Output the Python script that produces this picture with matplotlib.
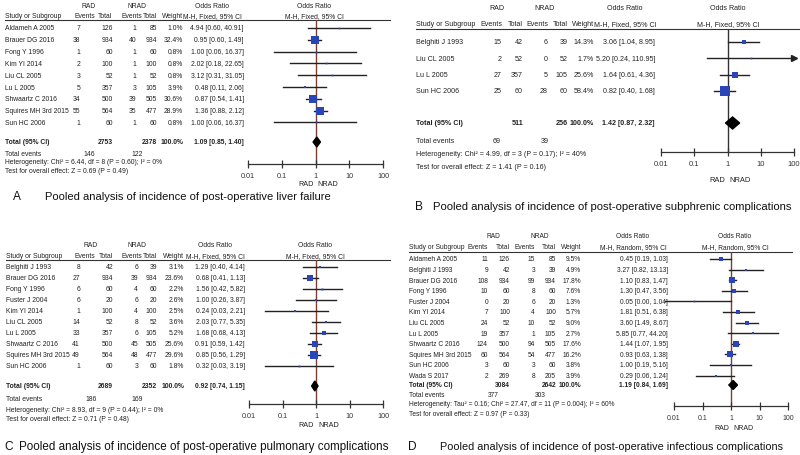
import matplotlib as mpl
mpl.use('Agg') # Headless
import matplotlib.pyplot as plt
import numpy as np

W, H = 800, 456
FAM = ['Liberation Sans', 'DejaVu Sans']

# ---- A: liver failure
a_study = ['Aldameh A 2005', 'Brauer DG 2016', 'Fong Y 1996', 'Kim YI 2014', 'Liu CL 2005',
           'Lu L 2005', 'Shwaartz C 2016', 'Squires MH 3rd 2015', 'Sun HC 2006']
a_rad_ev = [7, 38, 1, 2, 3, 5, 34, 55, 1]
a_rad_tot = [126, 934, 60, 100, 52, 357, 500, 564, 60]
a_nrad_ev = [1, 40, 1, 1, 1, 3, 39, 35, 1]
a_nrad_tot = [85, 934, 60, 100, 52, 105, 505, 477, 60]
a_weight = [1.0, 32.4, 0.8, 0.8, 0.8, 3.9, 30.6, 28.9, 0.8]
a_or = [4.94, 0.95, 1.00, 2.02, 3.12, 0.48, 0.87, 1.36, 1.00]
a_lo = [0.60, 0.60, 0.06, 0.18, 0.31, 0.11, 0.54, 0.88, 0.06]
a_hi = [40.91, 1.49, 16.37, 22.65, 31.05, 2.06, 1.41, 2.12, 16.37]
a_total = [2753, 2378, 1.09, 0.85, 1.40]
a_events = [146, 122]
a_het = 'Heterogeneity: Chi² = 6.44, df = 8 (P = 0.60); I² = 0%'
a_test = 'Test for overall effect: Z = 0.69 (P = 0.49)'
a_caption = 'Pooled analysis of incidence of post-operative liver failure'

# ---- B: subphrenic complications
b_study = ['Belghiti J 1993', 'Liu CL 2005', 'Lu L 2005', 'Sun HC 2006']
b_rad_ev = [15, 2, 27, 25]
b_rad_tot = [42, 52, 357, 60]
b_nrad_ev = [6, 0, 5, 28]
b_nrad_tot = [39, 52, 105, 60]
b_weight = [14.3, 1.7, 25.6, 58.4]
b_or = [3.06, 5.20, 1.64, 0.82]
b_lo = [1.04, 0.24, 0.61, 0.40]
b_hi = [8.95, 110.95, 4.36, 1.68]
b_total = [511, 256, 1.42, 0.87, 2.32]
b_events = [69, 39]
b_het = 'Heterogeneity: Chi² = 4.99, df = 3 (P = 0.17); I² = 40%'
b_test = 'Test for overall effect: Z = 1.41 (P = 0.16)'
b_caption = 'Pooled analysis of incidence of post-operative subphrenic complications'

# ---- C: pulmonary complications
c_study = ['Belghiti J 1993', 'Brauer DG 2016', 'Fong Y 1996', 'Fuster J 2004', 'Kim YI 2014',
           'Liu CL 2005', 'Lu L 2005', 'Shwaartz C 2016', 'Squires MH 3rd 2015', 'Sun HC 2006']
c_rad_ev = [8, 27, 6, 6, 1, 14, 33, 41, 49, 1]
c_rad_tot = [42, 934, 60, 20, 100, 52, 357, 500, 564, 60]
c_nrad_ev = [6, 39, 4, 6, 4, 8, 6, 45, 48, 3]
c_nrad_tot = [39, 934, 60, 20, 100, 52, 105, 505, 477, 60]
c_weight = [3.1, 23.6, 2.2, 2.6, 2.5, 3.6, 5.2, 25.6, 29.6, 1.8]
c_or = [1.29, 0.68, 1.56, 1.00, 0.24, 2.03, 1.68, 0.91, 0.85, 0.32]
c_lo = [0.40, 0.41, 0.42, 0.26, 0.03, 0.77, 0.68, 0.59, 0.56, 0.03]
c_hi = [4.14, 1.13, 5.82, 3.87, 2.21, 5.35, 4.13, 1.42, 1.29, 3.19]
c_total = [2689, 2352, 0.92, 0.74, 1.15]
c_events = [186, 169]
c_het = 'Heterogeneity: Chi² = 8.93, df = 9 (P = 0.44); I² = 0%'
c_test = 'Test for overall effect: Z = 0.71 (P = 0.48)'
c_caption = 'Pooled analysis of incidence of post-operative pulmonary complications'

# ---- D: infectious complications (random effects)
d_study = ['Aldameh A 2005', 'Belghiti J 1993', 'Brauer DG 2016', 'Fong Y 1996', 'Fuster J 2004',
           'Kim YI 2014', 'Liu CL 2005', 'Lu L 2005', 'Shwaartz C 2016', 'Squires MH 3rd 2015',
           'Sun HC 2006', 'Wada S 2017']
d_rad_ev = [11, 9, 108, 10, 0, 7, 24, 19, 124, 60, 3, 2]
d_rad_tot = [126, 42, 934, 60, 20, 100, 52, 357, 500, 564, 60, 269]
d_nrad_ev = [15, 3, 99, 8, 6, 4, 10, 1, 94, 54, 3, 8]
d_nrad_tot = [85, 39, 934, 60, 20, 100, 52, 105, 505, 477, 60, 205]
d_weight = [9.5, 4.9, 17.8, 7.6, 1.3, 5.7, 9.0, 2.7, 17.6, 16.2, 3.8, 3.9]
d_or = [0.45, 3.27, 1.10, 1.30, 0.05, 1.81, 3.60, 5.85, 1.44, 0.93, 1.00, 0.29]
d_lo = [0.19, 0.82, 0.83, 0.47, 0.00, 0.51, 1.49, 0.77, 1.07, 0.63, 0.19, 0.06]
d_hi = [1.03, 13.13, 1.47, 3.56, 1.04, 6.38, 8.67, 44.20, 1.95, 1.38, 5.16, 1.24]
d_total = [3084, 2642, 1.19, 0.84, 1.69]
d_events = [377, 303]
d_het = 'Heterogeneity: Tau² = 0.16; Chi² = 27.47, df = 11 (P = 0.004); I² = 60%'
d_test = 'Test for overall effect: Z = 0.97 (P = 0.33)'
d_caption = 'Pooled analysis of incidence of post-operative infectious complications'

fig = plt.figure(figsize=(W / 100, H / 100), dpi=100)
bg = fig.add_axes([0, 0, 1, 1])
bg.set_xlim(0, W)
bg.set_ylim(H, 0)
bg.axis('off')


def txt(x, y, s, ha='left', fs=6, bold=False):
    bg.text(x, y, s, ha=ha, va='center', fontsize=fs, family=FAM,
            fontweight='bold' if bold else 'normal', color='#222222')


def panel(study, rev, rtot, nev, ntot, wt, orr, lo, hi, total, events, het, test,
          letter, caption, L, method='M-H, Fixed, 95% CI', vcol='#7b3f2f'):
    fs = L['fs']
    c = L['cols']  # right edges: ev1, tot1, ev2, tot2, weight, or
    hc = L.get('hcols', c[:5])
    rad_c, nrad_c = L['grp']
    txt(rad_c, L['yh1'], 'RAD', 'center', fs)
    txt(nrad_c, L['yh1'], 'NRAD', 'center', fs)
    txt(L['orh'], L['yh1'], 'Odds Ratio', 'center', fs)
    txt(L['plh'], L['yh1'], 'Odds Ratio', 'center', fs)
    txt(L['x0'], L['yh2'], 'Study or Subgroup', 'left', fs)
    for xr, s in zip(hc, ['Events', 'Total', 'Events', 'Total', 'Weight']):
        txt(xr, L['yh2'], s, 'right', fs)
    txt(L['orh'], L['yh2'], method, 'center', fs)
    txt(L['plh'], L['yh2'], method, 'center', fs)
    bg.plot([L['x0'], L['xend']], [L['yline'], L['yline']], color='#333333', lw=0.8)

    ys = [L['yr0'] + i * L['dy'] for i in range(len(study))]
    for i, y in enumerate(ys):
        txt(L['x0'], y, study[i], 'left', fs)
        txt(c[0], y, str(rev[i]), 'right', fs)
        txt(c[1], y, str(rtot[i]), 'right', fs)
        txt(c[2], y, str(nev[i]), 'right', fs)
        txt(c[3], y, str(ntot[i]), 'right', fs)
        txt(c[4], y, f'{wt[i]:.1f}%', 'right', fs)
        txt(c[5], y, f'{orr[i]:.2f} [{lo[i]:.2f}, {hi[i]:.2f}]', 'right', fs)

    yt = L['ytot']
    txt(L['x0'], yt, 'Total (95% CI)', 'left', fs, True)
    txt(c[1], yt, str(total[0]), 'right', fs, True)
    txt(c[3], yt, str(total[1]), 'right', fs, True)
    txt(c[4], yt, '100.0%', 'right', fs, True)
    txt(c[5], yt, f'{total[2]:.2f} [{total[3]:.2f}, {total[4]:.2f}]', 'right', fs, True)
    txt(L['x0'], L['yev'], 'Total events', 'left', fs)
    txt(rad_c, L['yev'], str(events[0]), 'center', fs)
    txt(nrad_c, L['yev'], str(events[1]), 'center', fs)
    txt(L['x0'], L['yhet'], het, 'left', fs)
    txt(L['x0'], L['ytest'], test, 'left', fs)

    # forest plot on a log axis
    p0, p1 = L['px']
    ax = fig.add_axes([p0 / W, 1 - L['yaxis'] / H, (p1 - p0) / W, (L['yaxis'] - L['yline']) / H])
    ax.set_xscale('log')
    ax.set_xlim(0.01, 100)
    ax.set_ylim(L['yaxis'], L['yline'])
    ax.patch.set_visible(False)
    for s in ['top', 'left', 'right']:
        ax.spines[s].set_visible(False)
    ax.spines['bottom'].set_color('#333333')
    ax.spines['bottom'].set_linewidth(0.9)
    ax.set_yticks([])
    ax.set_xticks([0.01, 0.1, 1, 10, 100])
    ax.set_xticklabels(['0.01', '0.1', '1', '10', '100'], family=FAM, fontsize=L['tfs'])
    ax.minorticks_off()
    ax.tick_params(axis='x', direction='inout', length=6, width=0.9, pad=2.5,
                   colors='#333333')
    ax.axvline(1, color=vcol, lw=1.0, zorder=1)
    for i, y in enumerate(ys):
        l = max(lo[i], 0.005)
        if hi[i] > 100:
            ax.plot([l, 100], [y, y], color='#222222', lw=1.0, clip_on=False, zorder=2)
            ax.plot([100], [y], marker='>', color='#222222', ms=4, clip_on=False, zorder=2)
        else:
            ax.plot([l, hi[i]], [y, y], color='#222222', lw=1.0, clip_on=False, zorder=2)
        ax.plot([orr[i]], [y], marker='s', color='#2a45b8', ms=max(1.2, 0.95 * np.sqrt(wt[i])),
                mew=0, clip_on=False, zorder=3)
    dh = L['dh']
    ax.fill([total[3], total[2], total[4], total[2]], [yt, yt - dh, yt, yt + dh],
            color='black', zorder=4, clip_on=False)

    xm = (p0 + p1) / 2
    txt(xm - 2, L['yrn'], 'RAD', 'right', L['tfs'])
    txt(xm + 2, L['yrn'], 'NRAD', 'left', L['tfs'])
    bg.text(L['capx'][0], L['capy'], letter, ha='left', va='center', fontsize=8.6,
            family=FAM, color='#111111')
    bg.text(L['capx'][1], L['capy'], caption, ha='left', va='center', fontsize=L['cfs'],
            family=FAM, color='#111111')


LA = dict(fs=4.9, tfs=5.2, cols=[80, 113, 136, 157, 183, 244], hcols=[95, 112, 142, 157, 183],
          grp=(89, 137), orh=212, plh=314, x0=5, xend=390, yh1=6, yh2=17, yline=21, yr0=29,
          dy=11.8, ytot=143, yev=155, yhet=163, ytest=172, px=(248, 383), yaxis=165, yrn=185,
          dh=5, capx=(13, 45), capy=197, cfs=8.0)
LB = dict(fs=5.1, tfs=5.4, cols=[502, 523, 548, 568, 594, 655], grp=(497, 545), orh=625,
          plh=728, x0=416, xend=800, yh1=9, yh2=25, yline=30, yr0=43, dy=16.3, ytot=124,
          yev=142, yhet=155, ytest=168, px=(661, 794), yaxis=153, yrn=181, dh=6,
          capx=(415, 433), capy=207, cfs=8.1)
LC = dict(fs=4.9, tfs=5.2, cols=[80, 113, 138, 157, 184, 245], hcols=[95, 113, 142, 157, 184],
          grp=(91, 137), orh=215, plh=315, x0=6, xend=390, yh1=246, yh2=257, yline=261,
          yr0=268, dy=11.0, ytot=387, yev=400, yhet=411, ytest=420, px=(249, 383), yaxis=405,
          yrn=426, dh=5, capx=(4, 19), capy=447, cfs=8.4)
LD = dict(fs=4.8, tfs=5.0, cols=[488, 510, 535, 556, 581, 668], grp=(493, 540), orh=633,
          plh=735, x0=409, xend=792, yh1=237, yh2=248, yline=253, yr0=260, dy=10.6, ytot=386,
          yev=396, yhet=405, ytest=415, px=(674, 788), yaxis=407, yrn=429, dh=4.5,
          capx=(408, 440), capy=447, cfs=7.8)

panel(a_study, a_rad_ev, a_rad_tot, a_nrad_ev, a_nrad_tot, a_weight, a_or, a_lo, a_hi,
      a_total, a_events, a_het, a_test, 'A', a_caption, LA)
panel(b_study, b_rad_ev, b_rad_tot, b_nrad_ev, b_nrad_tot, b_weight, b_or, b_lo, b_hi,
      b_total, b_events, b_het, b_test, 'B', b_caption, LB, vcol='#333333')
panel(c_study, c_rad_ev, c_rad_tot, c_nrad_ev, c_nrad_tot, c_weight, c_or, c_lo, c_hi,
      c_total, c_events, c_het, c_test, 'C', c_caption, LC)
panel(d_study, d_rad_ev, d_rad_tot, d_nrad_ev, d_nrad_tot, d_weight, d_or, d_lo, d_hi,
      d_total, d_events, d_het, d_test, 'D', d_caption, LD, method='M-H, Random, 95% CI')

plt.savefig('out.png', dpi=100)
